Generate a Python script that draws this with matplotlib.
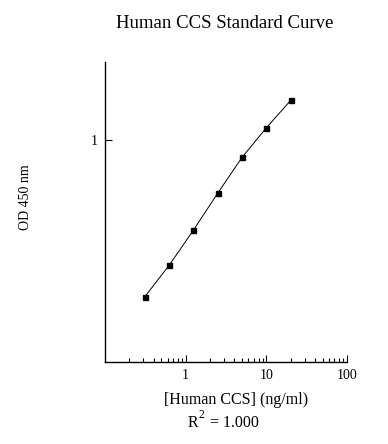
import matplotlib
matplotlib.use("Agg")
import matplotlib.pyplot as plt
from matplotlib.ticker import LogLocator, FixedLocator, NullFormatter, FixedFormatter

plt.rcParams['font.family'] = ['Liberation Serif', 'DejaVu Serif']

conc = [0.3125, 0.625, 1.25, 2.5, 5, 10, 20]
od = [0.197, 0.273, 0.393, 0.577, 0.836, 1.136, 1.509]
x_ticks = [1, 10, 100]
x_ticklabels = ['1', '10', '100']
y_ticks = [1]
y_ticklabels = ['1']

fig = plt.figure(figsize=(3.88, 4.44), dpi=100)
ax = fig.add_axes([0.2706, 0.1847, 0.8943 - 0.2706, 0.8604 - 0.1847])
ax.plot(conc, od, color='black', linewidth=0.7, marker='s', markersize=3.6,
        markerfacecolor='black', markeredgecolor='black')
ax.set_xscale('log')
ax.set_yscale('log')
ax.set_xlim(0.1, 100)
ax.set_ylim(0.1, 2.25)
for s in ['top', 'right']:
    ax.spines[s].set_visible(False)
for s in ['left', 'bottom']:
    ax.spines[s].set_linewidth(1.0)

ax.xaxis.set_major_locator(FixedLocator(x_ticks))
ax.xaxis.set_major_formatter(FixedFormatter(x_ticklabels))
ax.xaxis.set_minor_locator(LogLocator(base=10, subs=range(2, 10), numticks=20))
ax.xaxis.set_minor_formatter(NullFormatter())
ax.yaxis.set_major_locator(FixedLocator(y_ticks))
ax.yaxis.set_major_formatter(FixedFormatter(y_ticklabels))
ax.yaxis.set_minor_locator(FixedLocator([]))

ax.tick_params(axis='both', which='major', direction='in', length=5, width=0.8, labelsize=10, pad=5)
ax.tick_params(axis='both', which='minor', direction='in', length=3, width=0.8)

fig.text(0.58, 0.948, 'Human CCS Standard Curve', ha='center', va='center', fontsize=13.5)
fig.text(0.065, 0.555, 'OD 450 nm', rotation=90, ha='center', va='center', fontsize=10)
fig.text(0.608, 0.099, '[Human CCS] (ng/ml)', ha='center', va='center', fontsize=11.5)
fig.text(0.4845, 0.039, 'R', ha='left', va='baseline', fontsize=11.5)
fig.text(0.511, 0.059, '2', ha='left', va='baseline', fontsize=8.5)
fig.text(0.541, 0.039, '= 1.000', ha='left', va='baseline', fontsize=11.5)

fig.savefig('out.png', dpi=100)
